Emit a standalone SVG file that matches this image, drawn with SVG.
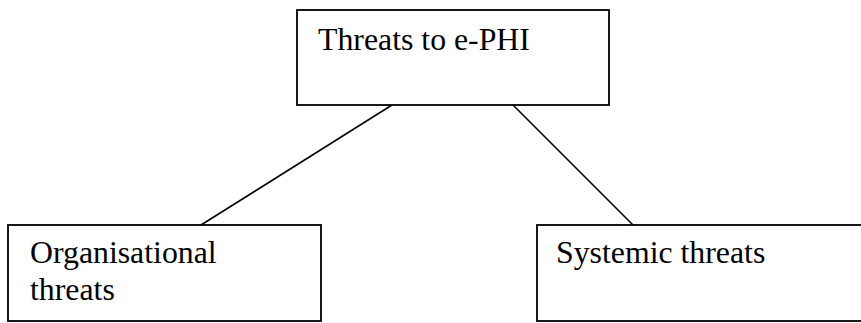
<svg xmlns="http://www.w3.org/2000/svg" width="861" height="323" viewBox="0 0 861 323">
  <style>
    .box { fill: #ffffff; stroke: #000000; stroke-width: 1.8; }
    .label { font-family: "Liberation Serif", "Times New Roman", serif; font-size: 31.8px; fill: #000000; }
    .link { stroke: #000000; stroke-width: 1.6; fill: none; }
  </style>
  <rect width="861" height="323" fill="#ffffff"/>
  <g id="connectors">
    <line class="link" x1="392" y1="105" x2="201" y2="225"/>
    <line class="link" x1="513" y1="105" x2="633" y2="225"/>
  </g>
  <g id="threats-to-ephi">
    <rect class="box" x="297" y="10" width="312" height="95"/>
    <text class="label" x="318" y="50">Threats to e-PHI</text>
  </g>
  <g id="organisational-threats">
    <rect class="box" x="8" y="225" width="313" height="96"/>
    <text class="label" x="30" y="263">Organisational</text>
    <text class="label" x="30" y="300">threats</text>
  </g>
  <g id="systemic-threats">
    <rect class="box" x="537" y="225" width="330" height="96"/>
    <text class="label" x="556" y="263">Systemic threats</text>
  </g>
</svg>
